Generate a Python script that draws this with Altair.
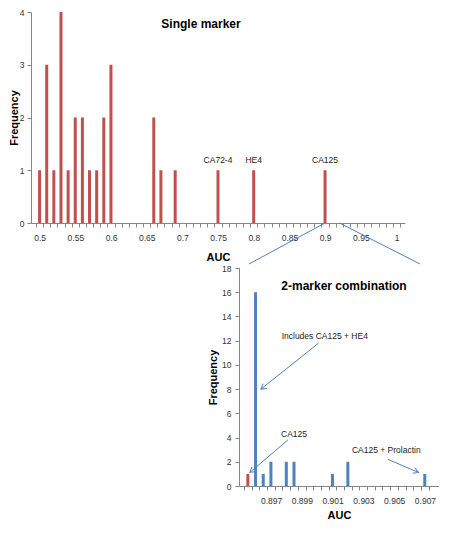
import math
import altair as alt
import pandas as pd

# ---------------- data ----------------
# Single marker histogram (top)
single_auc = [0.50, 0.51, 0.52, 0.53, 0.54, 0.55, 0.56, 0.57, 0.58, 0.59, 0.60,
              0.66, 0.67, 0.69, 0.75, 0.80, 0.90]
single_freq = [1, 3, 1, 4, 1, 2, 2, 1, 1, 2, 3, 2, 1, 1, 1, 1, 1]
single_lab_auc = [0.75, 0.80, 0.90]
single_lab_freq = [1, 1, 1]
single_lab_text = ["CA72-4", "HE4", "CA125"]

# 2-marker combination histogram (bottom)
combo_auc = [0.896, 0.8965, 0.897, 0.898, 0.8985, 0.901, 0.902, 0.907]
combo_freq = [16, 1, 2, 2, 2, 1, 2, 1]
ca125_auc = [0.8955]
ca125_freq = [1]

# annotations of bottom panel
ann_text = ["Includes CA125 + HE4", "CA125", "CA125 + Prolactin"]
ann_x = [0.9005, 0.8985, 0.9045]
ann_y = [12.4, 4.3, 3.0]
arr_x0 = [0.9001, 0.8981, 0.9046]
arr_y0 = [11.8, 3.8, 2.2]
arr_x1 = [0.89635, 0.89563, 0.90659]
arr_y1 = [8.0, 1.12, 1.12]

# axis ticks (category boundaries, Excel style)
top_x_ticks = [round(0.495 + 0.01 * i, 3) for i in range(52)]
bot_x_ticks = [round(0.89525 + 0.0005 * i, 5) for i in range(25)]
top_y_ticks = [0, 1, 2, 3, 4]
bot_y_ticks = [0, 2, 4, 6, 8, 10, 12, 14, 16, 18]

RED = "#C0504D"
BLUE = "#4F81BD"
AXIS = "#868686"
FONT = "Liberation Sans"

# ---------------- layout ----------------
TOP_W, TOP_H = 374, 211
BOT_W, BOT_H = 200, 218
SPACER_W = 208
V_SPACING = 45
TOP_DOM = [0.495, 1.005]
BOT_DOM = [0.89525, 0.9076]
top_cat_px = TOP_W / ((TOP_DOM[1] - TOP_DOM[0]) / 0.01)
bot_cat_px = BOT_W / ((BOT_DOM[1] - BOT_DOM[0]) / 0.0005)

# ---------------- top chart ----------------
top_df = pd.DataFrame({"auc": single_auc, "freq": single_freq})
top_lab = pd.DataFrame({"auc": single_lab_auc, "freq": single_lab_freq, "t": single_lab_text})

tx = alt.X("auc:Q", scale=alt.Scale(domain=TOP_DOM, nice=False, zero=False),
           axis=alt.Axis(values=top_x_ticks, tickCount=200, title="AUC", grid=False,
                         labelExpr="datum.value < 1 && round((datum.value + 0.005) * 1000) % 50 == 0 ? '' + round((datum.value + 0.005) * 100) / 100 : ''",
                         labelOffset=top_cat_px / 2, labelOverlap=False, labelFlush=False,
                         labelPadding=6, titlePadding=10, tickSize=4))
ty = alt.Y("freq:Q", scale=alt.Scale(domain=[0, 4], nice=False),
           axis=alt.Axis(values=top_y_ticks, tickCount=20, format="d", title="Frequency",
                         grid=False, labelOverlap=False,
                         labelPadding=3, titlePadding=0, tickSize=4))

top_bars = alt.Chart(top_df).mark_bar(size=3, color=RED).encode(x=tx, y=ty)
top_text = alt.Chart(top_lab).mark_text(fontSize=8.5, dy=-10, color="#222222", font=FONT).encode(
    x="auc:Q", y="freq:Q", text="t:N")
top_title = alt.Chart(pd.DataFrame({"t": ["Single marker"]})).mark_text(
    fontSize=12, fontWeight="bold", font=FONT, color="#000000").encode(
    x=alt.value(170), y=alt.value(12), text="t:N")
top = alt.layer(top_bars, top_text, top_title).properties(width=TOP_W, height=TOP_H)

# ---------------- bottom chart ----------------
bot_df = pd.DataFrame({
    "auc": ca125_auc + combo_auc,
    "freq": ca125_freq + combo_freq,
    "series": ["single"] * len(ca125_auc) + ["combo"] * len(combo_auc),
})
bx = alt.X("auc:Q", scale=alt.Scale(domain=BOT_DOM, nice=False, zero=False),
           axis=alt.Axis(values=bot_x_ticks, tickCount=200, title="AUC", grid=False,
                         labelExpr="round((datum.value + 0.00025) * 10000) % 20 == 10 ? format(datum.value + 0.00025, '.3f') : ''",
                         labelOffset=bot_cat_px / 2, labelOverlap=False, labelFlush=False,
                         labelPadding=6, titlePadding=5, tickSize=4))
by = alt.Y("freq:Q", scale=alt.Scale(domain=[0, 18], nice=False),
           axis=alt.Axis(values=bot_y_ticks, tickCount=40, format="d", title="Frequency",
                         grid=False, labelOverlap=False,
                         labelPadding=4, titlePadding=3, tickSize=4))

bot_bars = alt.Chart(bot_df).mark_bar(size=3).encode(
    x=bx, y=by,
    color=alt.Color("series:N", scale=alt.Scale(domain=["single", "combo"], range=[RED, BLUE]), legend=None))

ann_df = pd.DataFrame({"t": ann_text, "x": ann_x, "y": ann_y})
bot_text = alt.Chart(ann_df).mark_text(fontSize=8.5, color="#222222", font=FONT).encode(
    x="x:Q", y="y:Q", text="t:N")

angles = []
for a0, b0, a1, b1 in zip(arr_x0, arr_y0, arr_x1, arr_y1):
    dxp = (a1 - a0) / 0.0005 * bot_cat_px
    dyp = -(b1 - b0) * BOT_H / 18
    angles.append(math.degrees(math.atan2(dyp, dxp)) % 360)
arr_df = pd.DataFrame({"x0": arr_x0, "y0": arr_y0, "x1": arr_x1, "y1": arr_y1, "ang": angles})
arrows = alt.Chart(arr_df).mark_rule(color=BLUE, strokeWidth=1).encode(
    x="x0:Q", y="y0:Q", x2="x1:Q", y2="y1:Q")
heads = alt.Chart(arr_df).mark_point(
    shape="M -1.7 -1 L 0 0 L -1.7 1", filled=False, color=BLUE, strokeWidth=1, size=36, opacity=1
).encode(x="x1:Q", y="y1:Q", angle=alt.Angle("ang:Q", scale=None))

bot_title = alt.Chart(pd.DataFrame({"t": ["2-marker combination"]})).mark_text(
    fontSize=12, fontWeight="bold", font=FONT, color="#000000").encode(
    x=alt.value(105), y=alt.value(18), text="t:N")

# zoom connector lines from the top axis to the lower panel (pixel offsets of the lower panel)
zl = []
for xs, xe in [(86, 10), (100.5, 181)]:
    zl.append(alt.Chart(pd.DataFrame({"k": [0]})).mark_rule(color=BLUE, strokeWidth=1).encode(
        x=alt.value(xs), y=alt.value(-V_SPACING), x2=alt.value(xe), y2=alt.value(-4)))

bottom = alt.layer(bot_bars, *zl, arrows, heads, bot_text, bot_title).properties(
    width=BOT_W, height=BOT_H)

spacer = alt.Chart(pd.DataFrame({"v": [0]})).mark_point(opacity=0, size=1).encode(
    x=alt.value(0), y=alt.value(0)).properties(width=SPACER_W, height=10)

row = alt.hconcat(spacer, bottom, spacing=0, bounds="flush")
chart = alt.vconcat(top, row, spacing=V_SPACING, bounds="flush").properties(
    padding=0
).configure(padding=0).configure_view(stroke=None).configure_axis(
    domainColor=AXIS, tickColor=AXIS, labelColor="#333333", titleColor="#000000",
    labelFont=FONT, titleFont=FONT, labelFontSize=8.5, titleFontSize=11,
    titleFontWeight="bold", domainWidth=1, tickWidth=1
)

chart.save("out.html", embed_options={"renderer": "svg", "actions": False})
